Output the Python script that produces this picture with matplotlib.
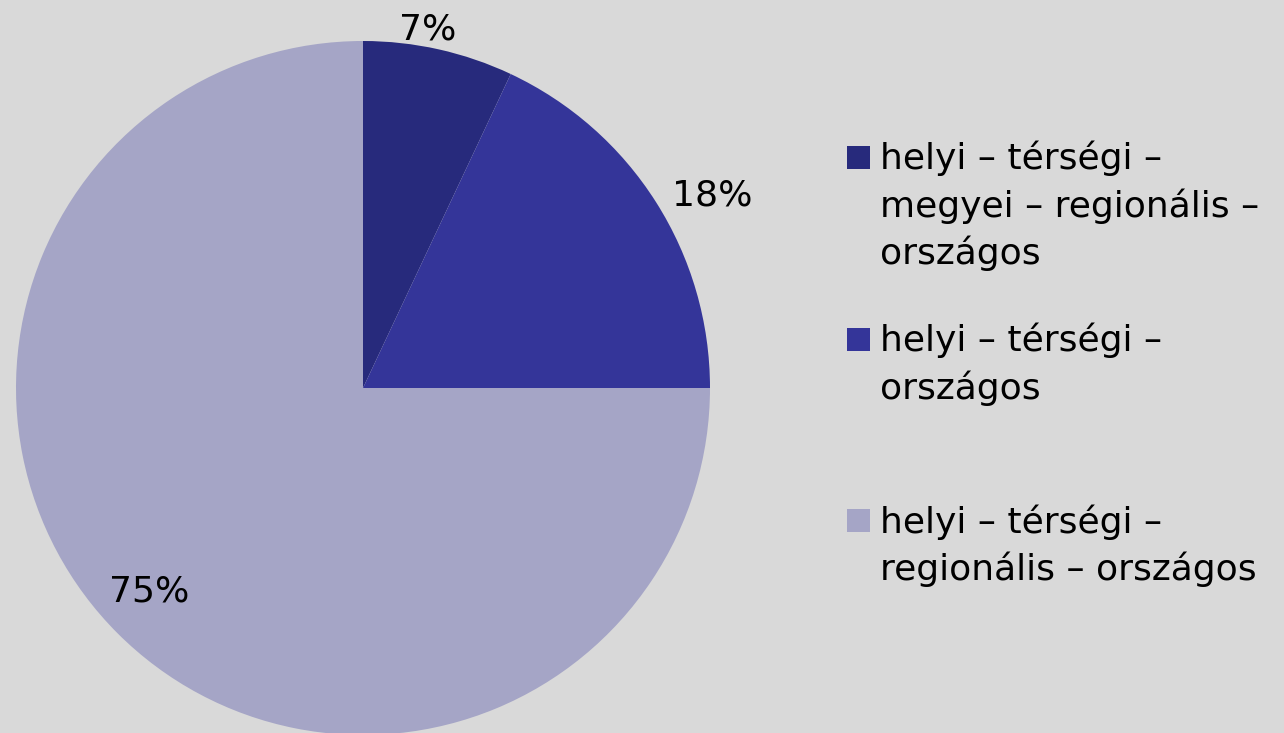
import matplotlib.pyplot as plt
from matplotlib.patches import Rectangle
import numpy as np

# data
labels = ["helyi – térségi –\nmegyei – regionális –\nországos",
          "helyi – térségi –\nországos",
          "helyi – térségi –\nregionális – országos"]
values = [7, 18, 75]
pct_text = ["7%", "18%", "75%"]
colors = ["#272a7c", "#343599", "#a5a5c6"]

W, H = 1284, 733
fig = plt.figure(figsize=(W / 100, H / 100), dpi=100)
fig.patch.set_facecolor("#d9d9d9")

# pie axes placed in pixels: centre (363, 388), radius 347
cx, cy, r = 363, 388, 347
ax = fig.add_axes([(cx - r) / W, (H - cy - r) / H, 2 * r / W, 2 * r / H])
ax.set_facecolor("none")
wedges, _ = ax.pie(values, colors=colors, startangle=90, counterclock=False,
                   radius=1, wedgeprops=dict(linewidth=0))
ax.set_xlim(-1, 1)
ax.set_ylim(-1, 1)
ax.set_aspect("equal")
ax.axis("off")

# label distance for each slice (ref picture places them unevenly)
label_r = [1.05, 1.15, 0.85]
label_shift = [2.3, -3.5, -1.5]
for w, t, lr, sh in zip(wedges, pct_text, label_r, label_shift):
    ang = np.deg2rad((w.theta1 + w.theta2) / 2 + sh)
    ax.text(lr * np.cos(ang), lr * np.sin(ang), t, ha="center", va="center",
            fontsize=26, color="black", clip_on=False)

# legend drawn by hand
box_x = 847
box_tops = [146, 328, 509]
txt_x = 880
for lab, col, top in zip(labels, colors, box_tops):
    fig.patches.append(Rectangle((box_x / W, (H - top - 23) / H), 23 / W, 23 / H,
                                 transform=fig.transFigure, facecolor=col,
                                 edgecolor="none"))
    fig.text(txt_x / W, (H - top + 5) / H, lab, ha="left", va="top",
             fontsize=26, color="black", linespacing=1.42)

fig.savefig("out.png", dpi=100, facecolor=fig.get_facecolor())
